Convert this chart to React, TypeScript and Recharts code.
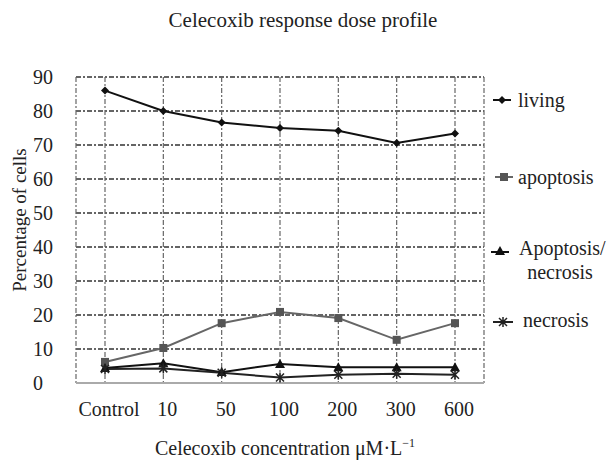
import { LineChart, Line, XAxis, YAxis, CartesianGrid } from "recharts";

const concentrations = ["Control", "10", "50", "100", "200", "300", "600"];
const living = [86, 80, 76.6, 75, 74.2, 70.6, 73.4];
const apoptosis = [6.2, 10.3, 17.6, 20.9, 19.1, 12.7, 17.6];
const apoptosisNecrosis = [4.4, 5.8, 3.2, 5.6, 4.6, 4.6, 4.6];
const necrosis = [4.1, 4.3, 3.0, 1.6, 2.4, 2.7, 2.4];
const yTicks = [0, 10, 20, 30, 40, 50, 60, 70, 80, 90];

const data = concentrations.map((name, i) => ({
  name,
  living: living[i],
  apoptosis: apoptosis[i],
  apoptosisNecrosis: apoptosisNecrosis[i],
  necrosis: necrosis[i],
}));

const font = "'Liberation Serif', 'Times New Roman', serif";

const Diamond = (props: any) => {
  const { cx, cy, fill } = props;
  if (cx == null || cy == null) return null;
  return <path d={`M${cx},${cy - 4}L${cx + 4},${cy}L${cx},${cy + 4}L${cx - 4},${cy}Z`} fill={fill} />;
};

const Square = (props: any) => {
  const { cx, cy, fill } = props;
  if (cx == null || cy == null) return null;
  return <rect x={cx - 4} y={cy - 4} width={8} height={8} fill={fill} />;
};

const Triangle = (props: any) => {
  const { cx, cy, fill } = props;
  if (cx == null || cy == null) return null;
  return <path d={`M${cx},${cy - 5}L${cx + 5},${cy + 4}L${cx - 5},${cy + 4}Z`} fill={fill} />;
};

const Cross = (props: any) => {
  const { cx, cy, stroke } = props;
  if (cx == null || cy == null) return null;
  return (
    <path
      d={`M${cx - 4},${cy - 4}L${cx + 4},${cy + 4}M${cx + 4},${cy - 4}L${cx - 4},${cy + 4}M${cx},${cy - 5}L${cx},${cy + 5}`}
      stroke={stroke}
      strokeWidth={1.5}
    />
  );
};

// y tick labels are left aligned in the original
const YTick = (props: any) => {
  const { y, payload } = props;
  return (
    <text x={33} y={y} dy="0.36em" textAnchor="start" fill="#222" fontSize={20} fontFamily={font}>
      {payload.value}
    </text>
  );
};

const XTick = (props: any) => {
  const { x, y, payload } = props;
  return (
    <text x={x + 4} y={y} textAnchor="middle" fill="#222" fontSize={20} fontFamily={font}>
      {payload.value}
    </text>
  );
};

export default function App() {
  return (
    <div style={{ position: "absolute", left: 0, top: 0, width: 612, height: 460, background: "#fff" }}>
      <LineChart width={612} height={460} data={data} margin={{ top: 77, right: 128, left: 0, bottom: 37 }}>
        <CartesianGrid horizontal={true} vertical={false} stroke="#333" strokeWidth={1.6} strokeDasharray="5 2 2 2" />
        <CartesianGrid horizontal={false} vertical={true} stroke="#666" strokeWidth={1.2} strokeDasharray="5 2 2 2" />
        <XAxis
          dataKey="name"
          padding={{ left: 29, right: 29 }}
          axisLine={{ stroke: "#aaa", strokeWidth: 2 }}
          tickLine={false}
          tickSize={0}
          tickMargin={33}
          height={40}
          tick={<XTick />}
        />
        <YAxis domain={[0, 90]} ticks={yTicks} axisLine={false} tickLine={false} width={76} tick={<YTick />} />
        <Line dataKey="living" stroke="#111" strokeWidth={2} dot={<Diamond fill="#111" />} isAnimationActive={false} />
        <Line dataKey="apoptosis" stroke="#666" strokeWidth={2} dot={<Square fill="#555" />} isAnimationActive={false} />
        <Line dataKey="apoptosisNecrosis" stroke="#111" strokeWidth={2} dot={<Triangle fill="#111" />} isAnimationActive={false} />
        <Line dataKey="necrosis" stroke="#222" strokeWidth={2} dot={<Cross stroke="#222" />} isAnimationActive={false} />
      </LineChart>
      <svg width={612} height={460} style={{ position: "absolute", left: 0, top: 0, pointerEvents: "none" }} fontFamily={font} fill="#222">
        <text x={303} y={27} textAnchor="middle" fontSize={21}>
          Celecoxib response dose profile
        </text>
        <text transform="translate(26,220) rotate(-90)" textAnchor="middle" fontSize={19}>
          Percentage of cells
        </text>
        <text x={285} y={455} textAnchor="middle" fontSize={20}>
          Celecoxib concentration μM·L
          <tspan fontSize={12} dy={-8}>−1</tspan>
        </text>

        <line x1={493} y1={100} x2={511} y2={100} stroke="#111" strokeWidth={2} />
        <Diamond cx={502} cy={100} fill="#111" />
        <text x={518} y={100} dy="0.35em" fontSize={20}>living</text>

        <line x1={495} y1={177} x2={513} y2={177} stroke="#666" strokeWidth={2} />
        <Square cx={504} cy={177} fill="#555" />
        <text x={518} y={177} dy="0.35em" fontSize={20}>apoptosis</text>

        <line x1={491} y1={252} x2={509} y2={252} stroke="#111" strokeWidth={2} />
        <Triangle cx={500} cy={251} fill="#111" />
        <text x={519} y={248} dy="0.35em" fontSize={20}>Apoptosis/</text>
        <text x={560} y={272} dy="0.35em" textAnchor="middle" fontSize={20}>necrosis</text>

        <line x1={493} y1={322} x2={513} y2={322} stroke="#222" strokeWidth={2} />
        <Cross cx={503} cy={322} stroke="#222" />
        <text x={523} y={320} dy="0.35em" fontSize={20}>necrosis</text>
      </svg>
    </div>
  );
}
